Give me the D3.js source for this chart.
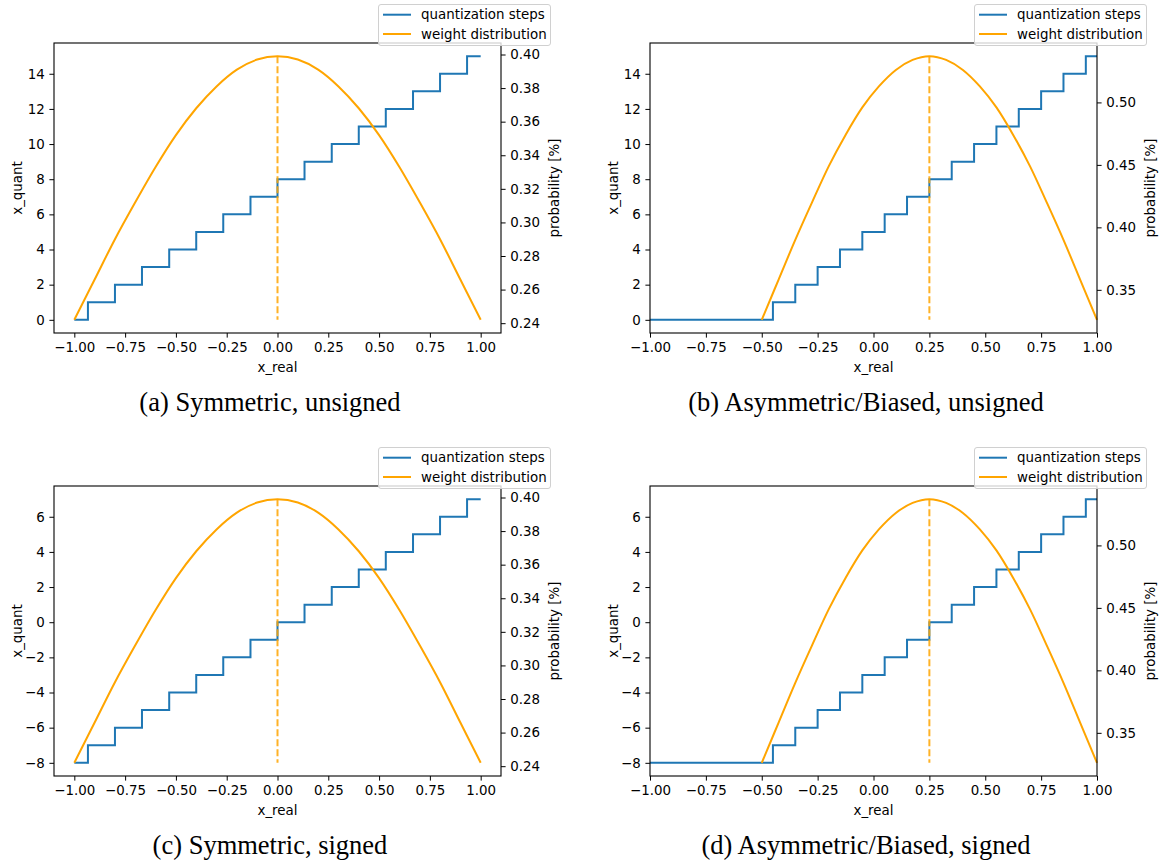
<!DOCTYPE html>
<html>
<head>
<meta charset="utf-8">
<script src="https://cdn.jsdelivr.net/npm/d3@7"></script>
<style>
  body { margin: 0; background: #fff; }
  svg text { font-family: "DejaVu Sans", sans-serif; }
</style>
</head>
<body>
<svg width="1159" height="866"></svg>
<script>
// quantization step edges along x_real (16 levels between 17 edges)
const stepEdgesSym = [-1.0, -0.933, -0.8, -0.667, -0.533, -0.4, -0.267, -0.133, 0.0,
                      0.133, 0.267, 0.4, 0.533, 0.667, 0.8, 0.933, 1.0];
const stepEdgesAsym = [-1.0, -0.45, -0.35, -0.25, -0.15, -0.05, 0.05, 0.15, 0.25,
                       0.35, 0.45, 0.55, 0.65, 0.75, 0.85, 0.95, 1.0];
const levelsUnsigned = [0, 1, 2, 3, 4, 5, 6, 7, 8, 9, 10, 11, 12, 13, 14, 15];
const levelsSigned = [-8, -7, -6, -5, -4, -3, -2, -1, 0, 1, 2, 3, 4, 5, 6, 7];

// weight distribution (probability)
const probXSym = [-1.0, -0.9, -0.8, -0.7, -0.6, -0.5, -0.4, -0.3, -0.2, -0.1, 0.0,
                  0.1, 0.2, 0.3, 0.4, 0.5, 0.6, 0.7, 0.8, 0.9, 1.0];
const probSym = [0.242, 0.266, 0.290, 0.312, 0.333, 0.352, 0.368, 0.381, 0.391, 0.397, 0.399,
                 0.397, 0.391, 0.381, 0.368, 0.352, 0.333, 0.312, 0.290, 0.266, 0.242];
const probXAsym = [-0.5, -0.425, -0.35, -0.275, -0.2, -0.125, -0.05, 0.025, 0.1, 0.175, 0.25,
                   0.325, 0.4, 0.475, 0.55, 0.625, 0.7, 0.775, 0.85, 0.925, 1.0];
const probAsym = [0.326, 0.358, 0.390, 0.420, 0.449, 0.474, 0.496, 0.513, 0.526, 0.534, 0.537,
                  0.534, 0.526, 0.513, 0.496, 0.474, 0.449, 0.420, 0.390, 0.358, 0.326];
const meanSym = 0.0;
const meanAsym = 0.25;

// tick labels
const xTicks = [-1.0, -0.75, -0.5, -0.25, 0.0, 0.25, 0.5, 0.75, 1.0];
const yTicksUnsigned = [0, 2, 4, 6, 8, 10, 12, 14];
const yTicksSigned = [-8, -6, -4, -2, 0, 2, 4, 6];
const probTicksSym = [0.24, 0.26, 0.28, 0.30, 0.32, 0.34, 0.36, 0.38, 0.40];
const probTicksAsym = [0.35, 0.40, 0.45, 0.50];

const captions = ["(a) Symmetric, unsigned", "(b) Asymmetric/Biased, unsigned",
                  "(c) Symmetric, signed", "(d) Asymmetric/Biased, signed"];

const blue = '#1f77b4';
const orange = '#ffa500';
const fs = 13.4;
const tick = 4.6;

const svg = d3.select('svg');

const panels = [
  {left: 54, top: 43, edges: stepEdgesSym, levels: levelsUnsigned, yTicks: yTicksUnsigned,
   px: probXSym, p: probSym, pTicks: probTicksSym, mean: meanSym, fixedX: false, cap: captions[0], capX: 270},
  {left: 650, top: 43, edges: stepEdgesAsym, levels: levelsUnsigned, yTicks: yTicksUnsigned,
   px: probXAsym, p: probAsym, pTicks: probTicksAsym, mean: meanAsym, fixedX: true, cap: captions[1], capX: 866},
  {left: 54, top: 486, edges: stepEdgesSym, levels: levelsSigned, yTicks: yTicksSigned,
   px: probXSym, p: probSym, pTicks: probTicksSym, mean: meanSym, fixedX: false, cap: captions[2], capX: 270},
  {left: 650, top: 486, edges: stepEdgesAsym, levels: levelsSigned, yTicks: yTicksSigned,
   px: probXAsym, p: probAsym, pTicks: probTicksAsym, mean: meanAsym, fixedX: true, cap: captions[3], capX: 866}
];

const W = 447, H = 290;

function pad(ext) {
  const m = (ext[1] - ext[0]) * 0.05;
  return [ext[0] - m, ext[1] + m];
}

panels.forEach(pn => {
  const g = svg.append('g').attr('transform', `translate(${pn.left}, ${pn.top})`);

  const xExt = d3.extent(pn.edges.concat(pn.px));
  const x = d3.scaleLinear().domain(pn.fixedX ? [-1, 1] : pad(xExt)).range([0, W]);
  const y = d3.scaleLinear().domain(pad(d3.extent(pn.levels))).range([H, 0]);
  const yp = d3.scaleLinear().domain(pad(d3.extent(pn.p))).range([H, 0]);

  // step line
  const pts = pn.levels.map((q, i) => [pn.edges[i], q]);
  pts.push([pn.edges[pn.edges.length - 1], pn.levels[pn.levels.length - 1]]);
  g.append('path')
    .attr('d', d3.line().x(d => x(d[0])).y(d => y(d[1])).curve(d3.curveStepAfter)(pts))
    .attr('fill', 'none')
    .attr('stroke', blue)
    .attr('stroke-width', 2);

  // weight distribution
  const curve = pn.px.map((v, i) => [v, pn.p[i]]);
  g.append('path')
    .attr('d', d3.line().x(d => x(d[0])).y(d => yp(d[1])).curve(d3.curveMonotoneX)(curve))
    .attr('fill', 'none')
    .attr('stroke', orange)
    .attr('stroke-width', 2);

  // mean line
  g.append('line')
    .attr('x1', x(pn.mean)).attr('x2', x(pn.mean))
    .attr('y1', yp(d3.max(pn.p))).attr('y2', yp(d3.min(pn.p)))
    .attr('stroke', orange)
    .attr('stroke-opacity', 0.85)
    .attr('stroke-width', 2)
    .attr('stroke-dasharray', '7,3');

  // axes
  const ax = g.append('g').attr('transform', `translate(0, ${H})`)
    .call(d3.axisBottom(x).tickValues(xTicks).tickFormat(d3.format('.2f'))
      .tickSize(tick).tickPadding(tick).tickSizeOuter(0));
  const ay = g.append('g')
    .call(d3.axisLeft(y).tickValues(pn.yTicks).tickFormat(d3.format('d'))
      .tickSize(tick).tickPadding(tick).tickSizeOuter(0));
  const ayp = g.append('g').attr('transform', `translate(${W}, 0)`)
    .call(d3.axisRight(yp).tickValues(pn.pTicks).tickFormat(d3.format('.2f'))
      .tickSize(tick).tickPadding(tick).tickSizeOuter(0));
  [ax, ay, ayp].forEach(a => {
    a.selectAll('.domain').remove();
    a.selectAll('text').attr('font-size', fs).attr('fill', '#000')
      .style('font-family', '"DejaVu Sans", sans-serif');
    a.selectAll('line').attr('stroke', '#000').attr('stroke-width', 1);
  });

  // spines
  g.append('rect')
    .attr('x', 0).attr('y', 0).attr('width', W).attr('height', H)
    .attr('fill', 'none').attr('stroke', '#000').attr('stroke-width', 1.1);

  // labels
  g.append('text')
    .attr('x', W / 2).attr('y', H + 39)
    .attr('text-anchor', 'middle').attr('font-size', fs)
    .text('x_real');
  g.append('text')
    .attr('transform', `translate(${-37}, ${H / 2}) rotate(-90)`)
    .attr('text-anchor', 'middle').attr('dominant-baseline', 'central').attr('font-size', fs)
    .text('x_quant');
  g.append('text')
    .attr('transform', `translate(${W + 53}, ${H / 2}) rotate(-90)`)
    .attr('text-anchor', 'middle').attr('dominant-baseline', 'central').attr('font-size', fs)
    .text('probability [%]');

  // legend
  const lg = g.append('g').attr('transform', `translate(${W + 50 - 173}, ${-39})`);
  lg.append('rect')
    .attr('x', 0.5).attr('y', 0.5).attr('width', 172).attr('height', 41).attr('rx', 2.5)
    .attr('fill', '#fff').attr('fill-opacity', 0.8)
    .attr('stroke', '#d0d0d0').attr('stroke-width', 1);
  [['quantization steps', blue], ['weight distribution', orange]].forEach((e, i) => {
    const yy = 10.7 + i * 19.3;
    lg.append('line').attr('x1', 5).attr('x2', 33).attr('y1', yy).attr('y2', yy)
      .attr('stroke', e[1]).attr('stroke-width', 2);
    lg.append('text').attr('x', 43).attr('y', yy)
      .attr('dominant-baseline', 'central').attr('font-size', fs)
      .text(e[0]);
  });

  // caption
  svg.append('text')
    .attr('x', pn.capX).attr('y', pn.top + 368)
    .attr('text-anchor', 'middle')
    .attr('font-size', 26.5)
    .style('font-family', '"Liberation Serif", serif')
    .text(pn.cap);
});
</script>
</body>
</html>
